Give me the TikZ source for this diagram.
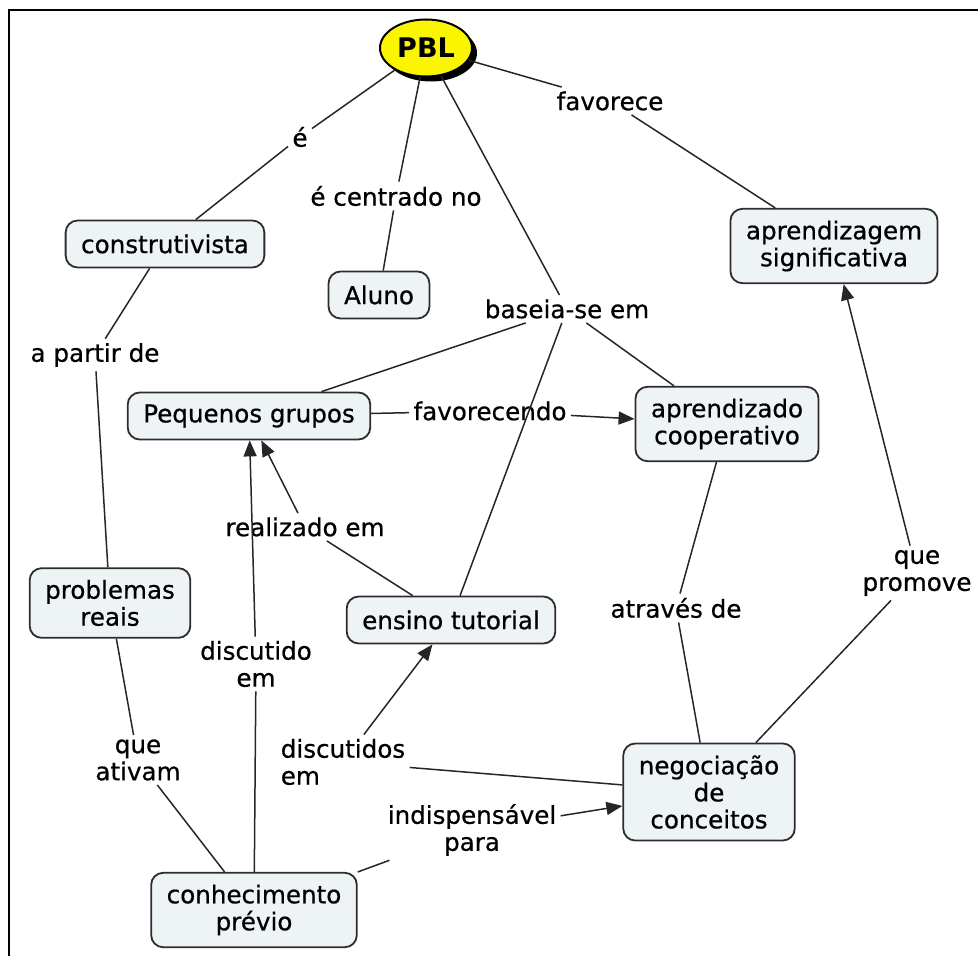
\documentclass[tikz,border=0pt]{standalone}
\usepackage{fontspec}
\setmainfont{DejaVu Sans}
\newfontfamily\mapfont{DejaVu Sans}[FakeBold=0.6]
\usetikzlibrary{arrows.meta, shapes.geometric, shadows}
\definecolor{conceptfill}{RGB}{238,243,246}
\definecolor{conceptline}{RGB}{45,45,45}
\definecolor{pblyellow}{RGB}{250,245,0}

\begin{document}
\begin{tikzpicture}[x=0.5pt, y=-0.5pt,
  concept/.style={draw=conceptline, line width=0.9pt, fill=conceptfill,
    rounded corners=6pt, align=center, inner xsep=7.75pt, inner ysep=5.9pt,
    minimum height=23.5pt, font=\mapfont\fontsize{12.3}{13.5}\selectfont},
  phrase/.style={align=center, inner sep=2pt, font=\mapfont\fontsize{12.3}{13.5}\selectfont},
  link/.style={draw=black!85, line width=0.75pt},
  linkarrow/.style={link, -{Triangle[length=8pt, width=6.5pt]}}]
  \useasboundingbox (0,0) rectangle (978,956);
  \draw[line width=1.25pt] (9,956) -- (9,10) -- (978,10);

  % concepts
  \node[ellipse, draw=black, line width=1pt, fill=pblyellow,
    minimum width=46pt, minimum height=28.5pt, inner sep=0pt,
    drop shadow={shadow xshift=2.5pt, shadow yshift=-2.5pt, fill=black, opacity=1},
    font=\fontsize{13.5}{15}\selectfont\bfseries] (pbl) at (426,48) {PBL};
  \node[concept] (constr) at (165,244) {construtivista};
  \node[concept] (aluno) at (379,295) {Aluno};
  \node[concept] (aprsig) at (834,246) {aprendizagem\\significativa};
  \node[concept] (grupos) at (249,416) {Pequenos grupos};
  \node[concept] (aprcoop) at (727,424) {aprendizado\\cooperativo};
  \node[concept] (problemas) at (110,603) {problemas\\reais};
  \node[concept] (tutorial) at (451,620) {ensino tutorial};
  \node[concept] (negoc) at (709,792) {negociação\\de\\conceitos};
  \node[concept] (conhec) at (254,910) {conhecimento\\prévio};

  % linking phrases
  \node[phrase] (lE) at (300,137) {é};
  \node[phrase] (lCentrado) at (396,196) {é centrado no};
  \node[phrase] (lFavorece) at (610,101) {favorece};
  \node[phrase] (lBaseia) at (567,309) {baseia-se em};
  \node[phrase] (lPartir) at (95,355) {a partir de};
  \node[phrase] (lFavorecendo) at (490,411) {favorecendo};
  \node[phrase] (lRealizado) at (305,527) {realizado em};
  \node[phrase] (lDiscutido) at (256,664) {discutido\\em};
  \node[phrase] (lAtraves) at (676,608) {através de};
  \node[phrase] (lPromove) at (917,573) {que\\promove};
  \node[phrase] (lAtivam) at (138,760) {que\\ativam};
  \node[phrase, align=left] (lDiscutidos) at (343,762) {discutidos\\em};
  \node[phrase] (lIndisp) at (472,830) {indispensável\\para};

  % connectors
  \draw[link] (pbl) -- (lE);
  \draw[link] (lE) -- (constr);
  \draw[link] (pbl) -- (lCentrado);
  \draw[link] (lCentrado) -- (aluno);
  \draw[link] (pbl) -- (lFavorece);
  \draw[link] (lFavorece) -- (aprsig);
  \draw[link] (pbl) -- (lBaseia);
  \draw[link] (lBaseia) -- (grupos);
  \draw[link] (lBaseia) -- (aprcoop);
  \draw[link] (lBaseia) -- (tutorial);
  \draw[link] (constr) -- (lPartir);
  \draw[link] (lPartir) -- (problemas);
  \draw[link] (grupos) -- (lFavorecendo);
  \draw[linkarrow] (lFavorecendo) -- (aprcoop);
  \draw[link] (tutorial) -- (lRealizado);
  \draw[linkarrow] (lRealizado) -- (grupos);
  \draw[link] (conhec) -- (lDiscutido);
  \draw[linkarrow] (lDiscutido) -- (grupos);
  \draw[link] (aprcoop) -- (lAtraves);
  \draw[link] (lAtraves) -- (negoc);
  \draw[link] (negoc) -- (lPromove);
  \draw[linkarrow] (lPromove) -- (aprsig);
  \draw[link] (problemas) -- (lAtivam);
  \draw[link] (lAtivam) -- (conhec);
  \draw[link] (negoc) -- (lDiscutidos);
  \draw[linkarrow] (lDiscutidos) -- (tutorial);
  \draw[link] (conhec) -- (lIndisp);
  \draw[linkarrow] (lIndisp) -- (negoc);
\end{tikzpicture}
\end{document}
